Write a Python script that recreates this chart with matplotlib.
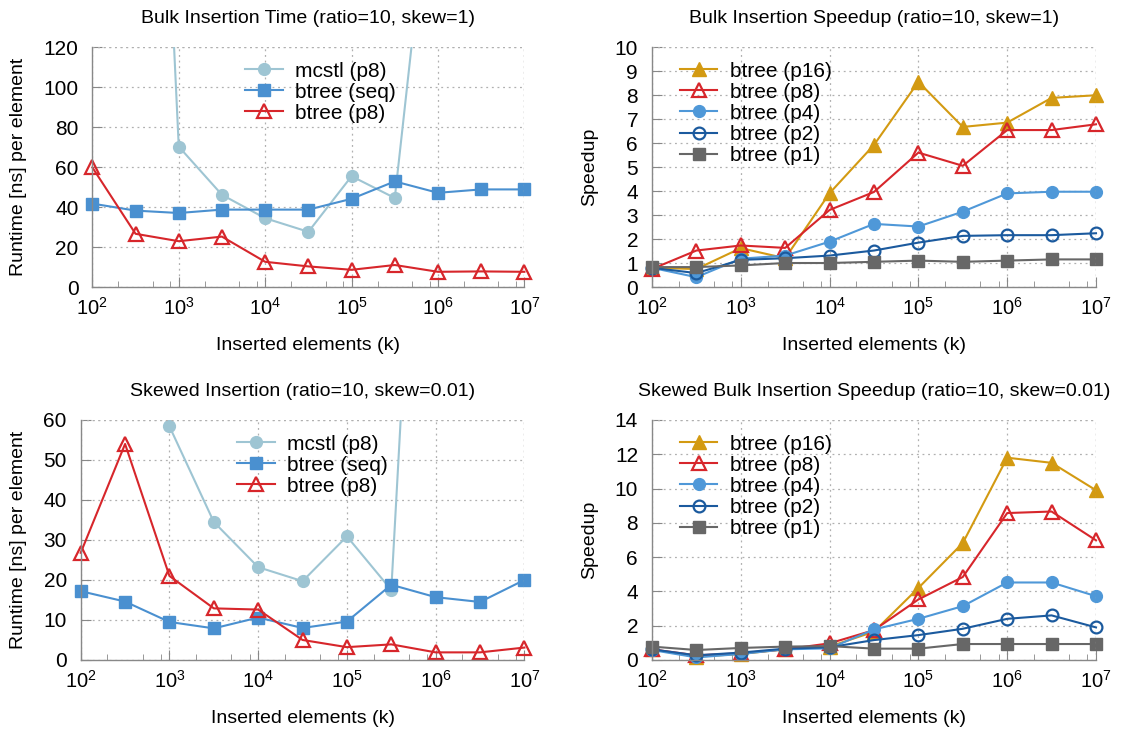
import matplotlib
matplotlib.use("Agg")
import matplotlib.pyplot as plt
import numpy as np
from matplotlib.ticker import LogLocator, NullFormatter

plt.rcParams['font.family'] = ['Liberation Sans', 'DejaVu Sans']
plt.rcParams['font.size'] = 14

# inserted elements: 10^2 ... 10^7 in half-decade steps
exponents = [2, 2.5, 3, 3.5, 4, 4.5, 5, 5.5, 6, 6.5, 7]
inserted = [10 ** e for e in exponents]

# bulk insertion time, skew=1 (ns per element)
bulk_mcstl_p8 = [900, 530, 70.2, 46.1, 34.4, 27.6, 55.4, 44.5, 240, 400, 600]
bulk_btree_seq = [41.7, 38.2, 37.0, 38.7, 38.7, 38.7, 44.1, 52.8, 47.1, 48.8, 48.8]
bulk_btree_p8 = [59.8, 26.6, 22.9, 25.2, 12.6, 10.3, 8.6, 11.0, 7.6, 7.8, 7.6]

# bulk insertion speedup, skew=1
bulk_sp_p16 = [0.80, 0.75, 1.62, 1.20, 3.91, 5.92, 8.55, 6.67, 6.85, 7.88, 7.99]
bulk_sp_p8 = [0.75, 1.52, 1.73, 1.63, 3.21, 3.96, 5.60, 5.05, 6.54, 6.54, 6.78]
bulk_sp_p4 = [0.80, 0.41, 1.18, 1.31, 1.89, 2.63, 2.52, 3.14, 3.90, 3.97, 3.97]
bulk_sp_p2 = [0.80, 0.58, 1.13, 1.20, 1.31, 1.52, 1.85, 2.13, 2.16, 2.16, 2.24]
bulk_sp_p1 = [0.83, 0.83, 0.90, 1.00, 1.00, 1.05, 1.10, 1.05, 1.10, 1.15, 1.15]

# skewed insertion time, skew=0.01 (ns per element)
skew_mcstl_p8 = [900, 500, 58.4, 34.5, 23.2, 19.7, 30.9, 17.5, 219, 400, 600]
skew_btree_seq = [17.2, 14.6, 9.5, 7.9, 10.6, 8.0, 9.6, 18.8, 15.7, 14.5, 20.0]
skew_btree_p8 = [26.8, 54.0, 21.0, 12.9, 12.6, 5.0, 3.2, 3.9, 1.9, 1.9, 3.1]

# skewed bulk insertion speedup, skew=0.01
skew_sp_p16 = [0.62, 0.19, 0.35, 0.62, 0.78, 1.65, 4.20, 6.82, 11.8, 11.5, 9.9]
skew_sp_p8 = [0.62, 0.27, 0.39, 0.62, 0.97, 1.74, 3.53, 4.84, 8.57, 8.66, 6.98]
skew_sp_p4 = [0.58, 0.15, 0.35, 0.62, 0.68, 1.78, 2.40, 3.14, 4.52, 4.52, 3.72]
skew_sp_p2 = [0.62, 0.27, 0.43, 0.66, 0.74, 1.16, 1.45, 1.82, 2.40, 2.60, 1.90]
skew_sp_p1 = [0.78, 0.58, 0.70, 0.78, 0.81, 0.66, 0.66, 0.93, 0.93, 0.93, 0.93]

C_MCSTL = '#9ec5d3'
C_SEQ = '#4a90d0'
C_P8 = '#d7262b'
C_P16 = '#d39a12'
C_P4 = '#4f98d8'
C_P2 = '#1b5a9e'
C_P1 = '#676767'

LW = 1.5
MS = 8.5
GRID = dict(linestyle=(0, (1.5, 3)), color='#b0b0b0', linewidth=0.9)


def style_axes(ax, ymax, ystep):
    ax.set_xscale('log')
    ax.set_xlim(1e2, 1e7)
    ax.set_ylim(0, ymax)
    ax.set_yticks(np.arange(0, ymax + ystep / 2, ystep))
    ax.xaxis.set_minor_locator(LogLocator(base=10, subs=(2, 5, 8)))
    ax.xaxis.set_minor_formatter(NullFormatter())
    ax.spines['top'].set_visible(False)
    ax.spines['right'].set_visible(False)
    for s in ('left', 'bottom'):
        ax.spines[s].set_color('#888888')
        ax.spines[s].set_linewidth(1.0)
    ax.tick_params(axis='both', which='both', direction='in', color='#888888')
    ax.tick_params(axis='x', which='major', length=7, labelsize=14.5, pad=7)
    ax.tick_params(axis='x', which='minor', length=4)
    ax.tick_params(axis='y', which='major', length=7, labelsize=15, pad=10)
    ax.grid(True, which='major', **GRID)
    # dotted border on top and right
    ax.axhline(ymax, **GRID)
    ax.axvline(1e7, **GRID)
    ax.set_xlabel('Inserted elements (k)', fontsize=14, labelpad=13)


def plot_runtime(ax, mcstl, seq, p8, ymax, ystep, title):
    ax.plot(inserted, mcstl, color=C_MCSTL, lw=LW, marker='o', ms=MS,
            label='mcstl (p8)', clip_on=True)
    ax.plot(inserted, seq, color=C_SEQ, lw=LW, marker='s', ms=MS,
            label='btree (seq)', clip_on=False)
    ax.plot(inserted, p8, color=C_P8, lw=LW, marker='^', ms=MS + 1,
            mfc='none', mew=1.6, label='btree (p8)', clip_on=False)
    style_axes(ax, ymax, ystep)
    ax.set_ylabel('Runtime [ns] per element', fontsize=14, labelpad=12)
    ax.set_title(title, fontsize=14, pad=17)
    ax.legend(loc='upper left', bbox_to_anchor=(0.32, 1.0), frameon=False,
              fontsize=15, handlelength=1.8, labelspacing=0.1,
              handletextpad=0.6, borderaxespad=0.3)


def plot_speedup(ax, p16, p8, p4, p2, p1, ymax, ystep, title):
    ax.plot(inserted, p16, color=C_P16, lw=LW, marker='^', ms=MS + 1,
            label='btree (p16)', clip_on=False)
    ax.plot(inserted, p8, color=C_P8, lw=LW, marker='^', ms=MS + 1,
            mfc='none', mew=1.6, label='btree (p8)', clip_on=False)
    ax.plot(inserted, p4, color=C_P4, lw=LW, marker='o', ms=MS,
            label='btree (p4)', clip_on=False)
    ax.plot(inserted, p2, color=C_P2, lw=LW, marker='o', ms=MS,
            mfc='none', mew=1.6, label='btree (p2)', clip_on=False)
    ax.plot(inserted, p1, color=C_P1, lw=LW, marker='s', ms=MS,
            label='btree (p1)', clip_on=False)
    style_axes(ax, ymax, ystep)
    ax.set_ylabel('Speedup', fontsize=14, labelpad=12)
    ax.set_title(title, fontsize=14, pad=17)
    ax.legend(loc='upper left', bbox_to_anchor=(0.03, 1.0), frameon=False,
              fontsize=15, handlelength=1.8, labelspacing=0.1,
              handletextpad=0.6, borderaxespad=0.3)


fig = plt.figure(figsize=(11.4, 7.29), dpi=100)
ax1 = fig.add_axes([0.0810, 0.6063, 0.3790, 0.3292])
ax2 = fig.add_axes([0.5719, 0.6063, 0.3895, 0.3292])
ax3 = fig.add_axes([0.0708, 0.0947, 0.3892, 0.3292])
ax4 = fig.add_axes([0.5719, 0.0947, 0.3895, 0.3292])

plot_runtime(ax1, bulk_mcstl_p8, bulk_btree_seq, bulk_btree_p8, 120, 20,
             'Bulk Insertion Time (ratio=10, skew=1)')
plot_speedup(ax2, bulk_sp_p16, bulk_sp_p8, bulk_sp_p4, bulk_sp_p2, bulk_sp_p1,
             10, 1, 'Bulk Insertion Speedup (ratio=10, skew=1)')
plot_runtime(ax3, skew_mcstl_p8, skew_btree_seq, skew_btree_p8, 60, 10,
             'Skewed Insertion (ratio=10, skew=0.01)')
plot_speedup(ax4, skew_sp_p16, skew_sp_p8, skew_sp_p4, skew_sp_p2, skew_sp_p1,
             14, 2, 'Skewed Bulk Insertion Speedup (ratio=10, skew=0.01)')

fig.savefig('out.png', dpi=100)
